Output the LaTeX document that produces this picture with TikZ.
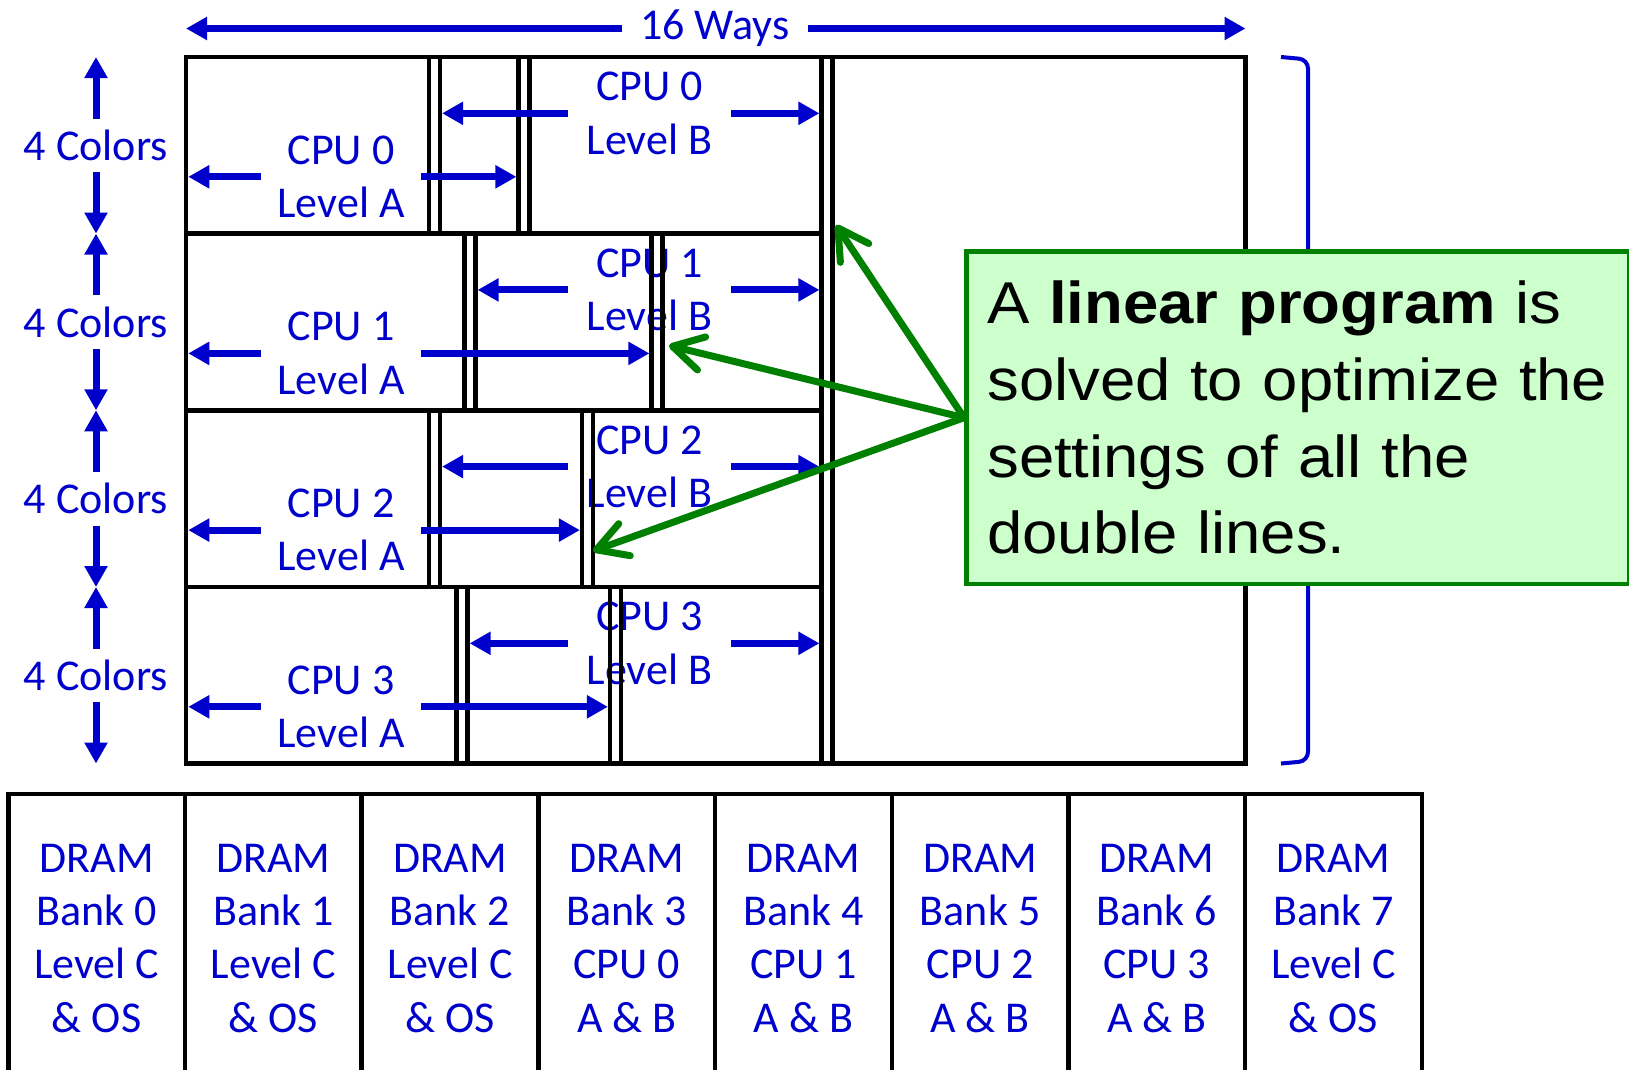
\documentclass[tikz,border=0pt]{standalone}
\usepackage{fontspec}
\setmainfont{Carlito}
\newfontfamily\lpfont[FakeStretch=1.076]{Liberation Sans}
\usetikzlibrary{arrows.meta}
\definecolor{ablue}{RGB}{0,0,204}
\definecolor{agreen}{RGB}{0,128,0}
\definecolor{lgreen}{RGB}{204,255,204}
\begin{document}
\begin{tikzpicture}[x=1pt,y=-1pt,
  txt/.style={text=ablue, font=\fontsize{44}{53.3}\selectfont, inner sep=0pt, align=center},
  barr/.style={draw=ablue, line width=7pt, -{Triangle[length=21pt,width=22pt]}},
  gline/.style={draw=black, line width=4.5pt},
  garr/.style={draw=agreen, line width=7pt, line cap=round, -{Straight Barb[length=30pt,width=34pt,round]}},
  bank/.style={draw=black, line width=4.5pt, anchor=north, minimum width=176.7pt, minimum height=289pt,
    text=ablue, font=\fontsize{44}{53.3}\selectfont, inner sep=0pt, align=center},
  callout/.style={draw=agreen, fill=lgreen, line width=4.5pt, anchor=west,
    minimum width=662.5pt, minimum height=332.6pt, inner xsep=21pt, inner ysep=0pt,
    text width=620.5pt, align=left, font=\lpfont\fontsize{59}{76.8}\selectfont}
]
\useasboundingbox (0,0) rectangle (1629,1069);
\clip (0,0) rectangle (1629,1069);

% row reference coordinates
\coordinate (r0) at (186,57);
\coordinate (r1) at (186,233.6);
\coordinate (r2) at (186,410.3);
\coordinate (r3) at (186,587);
\coordinate (r4) at (186,763.5);
\coordinate (gr) at (1245.5,57);
\coordinate (big) at (827,57);
% double-line positions
\coordinate (d0a) at (434.5,57);   \coordinate (d0b) at (524,57);
\coordinate (d1a) at (470,233.6);  \coordinate (d1b) at (657,233.6);
\coordinate (d2a) at (434.5,410.3);\coordinate (d2b) at (587.5,410.3);
\coordinate (d3a) at (462,587);    \coordinate (d3b) at (615.5,587);

% texts
\node[txt, minimum width=185pt] (ways) at (715,28.5) {16 Ways};
\foreach \i/\ya/\yb/\yc in {0/176.8/113.3/145.5, 1/353.4/289.9/322.1, 2/530.1/466.6/498.8, 3/706.8/643.3/675.5} {
  \node[txt, minimum width=160pt] (A\i) at (341,\ya) {CPU \i\\Level A};
  \node[txt, minimum width=163pt] (B\i) at (649.5,\yb) {CPU \i\\Level B};
  \node[txt, minimum height=53pt] (C\i) at (96,\yc) {4 Colors};
}

% double lines inside rows
\foreach \x/\ya/\yb in {434.5/57/233.6, 524/57/233.6, 470/233.6/410.3, 657/233.6/410.3,
                        434.5/410.3/587, 587.5/410.3/587, 462/587/763.5, 615.5/587/763.5} {
  \draw[gline] (\x-5.4,\ya) -- (\x-5.4,\yb);
  \draw[gline] (\x+5.4,\ya) -- (\x+5.4,\yb);
}
% row separators
\foreach \r in {r1,r2,r3} {
  \draw[gline, shorten >=5.4pt] (\r) -- (\r -| big);
}
% big double line
\draw[gline] ([xshift=-5.4pt]big) -- ([xshift=-5.4pt]big |- r4);
\draw[gline] ([xshift=5.4pt]big) -- ([xshift=5.4pt]big |- r4);
% outer frame
\draw[gline] (r0) rectangle (r4 -| gr);

% 16 Ways arrows
\draw[barr] (ways.west) -- (ways.west -| r0);
\draw[barr] (ways.east) -- (ways.east -| gr);

% 4 Colors arrows
\draw[barr] (C0.north) -- (C0.north |- r0);
\draw[barr] (C0.south) -- (C0.south |- r1);
\draw[barr] (C1.north) -- (C1.north |- r1);
\draw[barr] (C1.south) -- (C1.south |- r2);
\draw[barr] (C2.north) -- (C2.north |- r2);
\draw[barr] (C2.south) -- (C2.south |- r3);
\draw[barr] (C3.north) -- (C3.north |- r3);
\draw[barr] (C3.south) -- (C3.south |- r4);

% level arrows
\foreach \i in {0,1,2,3} {
  \draw[barr, shorten >=2.25pt] (A\i.west) -- (A\i.west -| r0);
  \draw[barr, shorten >=7.6pt] (A\i.east) -- (A\i.east -| d\i b);
  \draw[barr, shorten >=7.6pt] (B\i.west) -- (B\i.west -| d\i a);
  \draw[barr, shorten >=7.6pt] (B\i.east) -- (B\i.east -| big);
}

% bracket
\draw[ablue, line width=4pt, rounded corners=9pt] (1281,57) -- (1308,59.5) -- (1308,761) -- (1281,763.5);

% DRAM banks
\node[bank] (bank0) at (96.65,791.5) {DRAM\\Bank 0\\Level C\\\& OS};
\node[bank] (bank1) at (273.35,791.5) {DRAM\\Bank 1\\Level C\\\& OS};
\node[bank] (bank2) at (450.05,791.5) {DRAM\\Bank 2\\Level C\\\& OS};
\node[bank] (bank3) at (626.75,791.5) {DRAM\\Bank 3\\CPU 0\\A \& B};
\node[bank] (bank4) at (803.45,791.5) {DRAM\\Bank 4\\CPU 1\\A \& B};
\node[bank] (bank5) at (980.15,791.5) {DRAM\\Bank 5\\CPU 2\\A \& B};
\node[bank] (bank6) at (1156.85,791.5) {DRAM\\Bank 6\\CPU 3\\A \& B};
\node[bank] (bank7) at (1333.55,791.5) {DRAM\\Bank 7\\Level C\\\& OS};

% callout
\node[callout] (lp) at (964,417.7) {A \textbf{linear program} is\\solved to optimize the\\settings of all the\\double lines.};
\coordinate (t1) at (836,225);
\coordinate (t2) at (669,345.5);
\coordinate (t3) at (593,551);
\draw[garr] (lp.west) -- (t1);
\draw[garr] (lp.west) -- (t2);
\draw[garr] (lp.west) -- (t3);
\end{tikzpicture}
\end{document}
